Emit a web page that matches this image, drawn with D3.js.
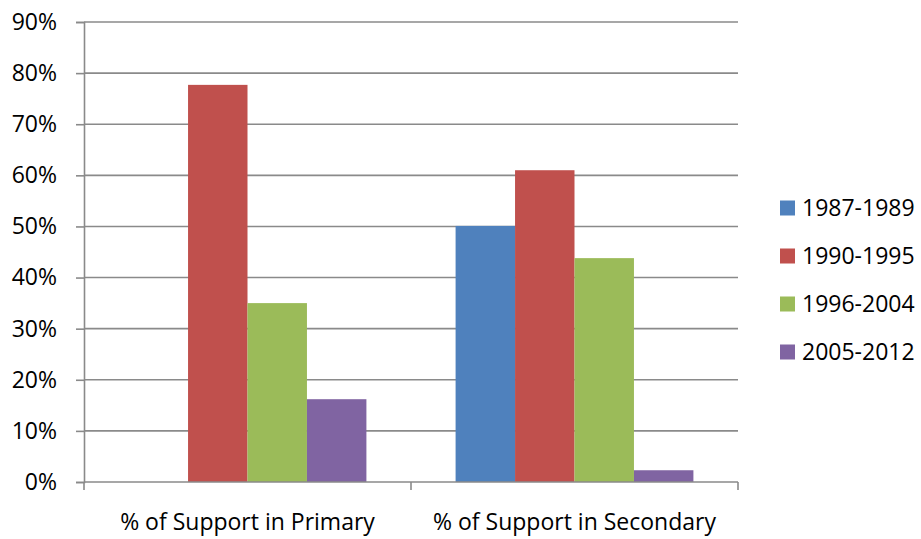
<!DOCTYPE html>
<html>
<head>
<meta charset="utf-8">
<script src="https://cdn.jsdelivr.net/npm/d3@7"></script>
<style>
  html, body { margin: 0; padding: 0; background: #fff; }
  svg text { font-family: "Open Sans", "Liberation Sans", sans-serif; fill: #000; }
</style>
</head>
<body>
<svg id="chart" width="921" height="539"></svg>
<script>
// Categories, series and values
const categories = ["% of Support in Primary", "% of Support in Secondary"];
const seriesNames = ["1987-1989", "1990-1995", "1996-2004", "2005-2012"];
const seriesColors = ["#4F81BD", "#C0504D", "#9BBB59", "#8064A2"];
const valuesPrimary = [null, 0.777, 0.350, 0.162];
const valuesSecondary = [0.501, 0.610, 0.438, 0.023];
const yTicks = [0, 0.1, 0.2, 0.3, 0.4, 0.5, 0.6, 0.7, 0.8, 0.9];

const valuesByCategory = [valuesPrimary, valuesSecondary];

const svg = d3.select("#chart");
const plotLeft = 84, plotRight = 738, plotTop = 22, plotBottom = 482;
const fontSize = 23;
const fontFamily = "'Open Sans', 'Liberation Sans', sans-serif";

const x0 = d3.scaleBand().domain(categories).range([plotLeft, plotRight]).padding(0);
const x1 = d3.scaleBand().domain(seriesNames).range([0, x0.bandwidth()])
  .paddingInner(0).paddingOuter(0.75);
const y = d3.scaleLinear().domain([0, 0.9]).range([plotBottom, plotTop]);
const color = d3.scaleOrdinal().domain(seriesNames).range(seriesColors);

// Horizontal gridlines
svg.append("g")
  .selectAll("line")
  .data(yTicks.slice(1))
  .join("line")
  .attr("x1", plotLeft).attr("x2", plotRight)
  .attr("y1", d => y(d)).attr("y2", d => y(d))
  .attr("stroke", "#8a8a8a").attr("stroke-width", 1.6);

// Y axis
const yAxis = svg.append("g")
  .attr("transform", `translate(${plotLeft},0)`)
  .call(d3.axisLeft(y).tickValues(yTicks).tickFormat(d3.format(".0%")).tickSize(8).tickPadding(19));
yAxis.select(".domain").attr("stroke", "#8a8a8a").attr("stroke-width", 1.6);
yAxis.selectAll(".tick line").attr("stroke", "#8a8a8a").attr("stroke-width", 1.6);
yAxis.selectAll(".tick text").attr("font-size", fontSize).attr("fill", "#000")
  .attr("font-family", fontFamily);

// Bars
const rows = [];
categories.forEach((c, i) => {
  seriesNames.forEach((s, j) => {
    const v = valuesByCategory[i][j];
    if (v != null) rows.push({ category: c, series: s, value: v });
  });
});

svg.append("g")
  .selectAll("rect")
  .data(rows)
  .join("rect")
  .attr("x", d => x0(d.category) + x1(d.series))
  .attr("width", x1.bandwidth())
  .attr("y", d => y(d.value))
  .attr("height", d => y(0) - y(d.value))
  .attr("fill", d => color(d.series));

// X axis with ticks at category boundaries
const xAxisG = svg.append("g");
xAxisG.append("line")
  .attr("x1", plotLeft).attr("x2", plotRight)
  .attr("y1", plotBottom).attr("y2", plotBottom)
  .attr("stroke", "#8a8a8a").attr("stroke-width", 1.6);
const boundaries = [plotLeft, ...categories.slice(1).map(c => x0(c)), plotRight];
xAxisG.selectAll("line.tick")
  .data(boundaries)
  .join("line")
  .attr("class", "tick")
  .attr("x1", d => d).attr("x2", d => d)
  .attr("y1", plotBottom).attr("y2", plotBottom + 8)
  .attr("stroke", "#8a8a8a").attr("stroke-width", 1.6);
xAxisG.selectAll("text")
  .data(categories)
  .join("text")
  .attr("x", d => x0(d) + x0.bandwidth() / 2)
  .attr("y", 530)
  .attr("text-anchor", "middle")
  .attr("font-size", fontSize)
  .text(d => d);

// Legend
const legend = svg.append("g").attr("transform", "translate(780,208)");
const item = legend.selectAll("g")
  .data(seriesNames)
  .join("g")
  .attr("transform", (d, i) => `translate(0,${i * 48})`);
item.append("rect")
  .attr("x", 0).attr("y", -7.5)
  .attr("width", 15).attr("height", 15)
  .attr("fill", d => color(d));
item.append("text")
  .attr("x", 22).attr("y", 0)
  .attr("dy", "0.36em")
  .attr("font-size", fontSize)
  .text(d => d);
</script>
</body>
</html>
